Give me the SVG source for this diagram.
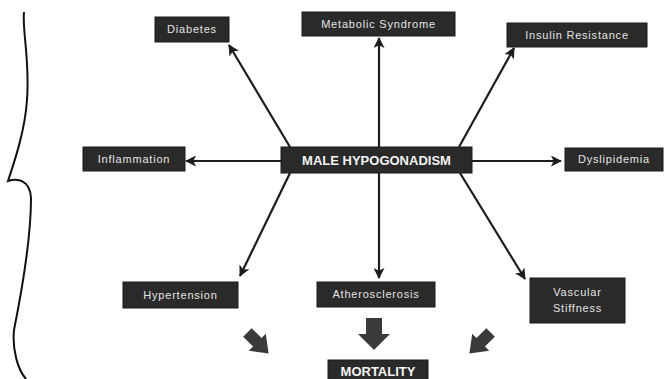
<svg xmlns="http://www.w3.org/2000/svg" width="664" height="379" viewBox="0 0 664 379">
<style>
.box{fill:#2a2a2a;stroke:#1a1a1a;stroke-width:1}
.lbl{font-family:"Liberation Sans",Arial,sans-serif;font-size:11px;fill:#e4e4e4;text-anchor:middle;letter-spacing:0.8px}
.main{font-family:"Liberation Sans",Arial,sans-serif;font-size:13px;font-weight:bold;fill:#f4f4f4;text-anchor:middle}
.con{stroke:#1c1c1c;stroke-width:2.2;fill:none;marker-end:url(#ah)}
.fat{fill:#3a3a3a}
</style>
<defs>
<marker id="ah" viewBox="0 0 12 12" refX="11" refY="6" markerWidth="5" markerHeight="5" orient="auto" markerUnits="strokeWidth">
<path d="M0,0 L12,6 L0,12 L3,6 Z" fill="#1c1c1c"/>
</marker>
<path id="fatD" d="M-6,-15 L6,-15 L6,-1 L12,-1 L0,15 L-12,-1 L-6,-1 Z"/>
<path id="fatM" d="M-8,-16 L8,-16 L8,0 L16,0 L0,16 L-16,0 L-8,0 Z"/>
</defs>
<rect width="664" height="379" fill="#ffffff"/>
<path d="M24,12 C22,30 30,60 27,100 C25,130 15,160 8,181 C18,178 30,180 31,198 C31,240 22,290 14,330 C12,350 18,370 26,379" fill="none" stroke="#111" stroke-width="2"/>
<g id="connectors">
<line class="con" x1="290" y1="147" x2="229" y2="45"/>
<line class="con" x1="379" y1="147" x2="379" y2="38"/>
<line class="con" x1="459" y1="147" x2="514" y2="48"/>
<line class="con" x1="281" y1="161" x2="186" y2="161"/>
<line class="con" x1="472" y1="161" x2="561" y2="161"/>
<line class="con" x1="290" y1="173" x2="240" y2="276"/>
<line class="con" x1="379" y1="173" x2="379" y2="278"/>
<line class="con" x1="460" y1="173" x2="525" y2="279"/>
<use href="#fatD" class="fat" transform="translate(258,343) rotate(-45)"/>
<use href="#fatM" class="fat" transform="translate(374,334)"/>
<use href="#fatD" class="fat" transform="translate(480,343) rotate(45)"/>
</g>
<g id="n-main"><rect class="box" x="281" y="147" width="191" height="26"/><text class="main" x="376.5" y="165">MALE HYPOGONADISM</text></g>
<g id="n-diabetes"><rect class="box" x="155" y="17" width="74" height="25"/><text class="lbl" x="192" y="33">Diabetes</text></g>
<g id="n-metabolic"><rect class="box" x="302" y="12" width="153" height="24"/><text class="lbl" x="378.5" y="28">Metabolic Syndrome</text></g>
<g id="n-insulin"><rect class="box" x="507" y="23" width="140" height="24"/><text class="lbl" x="577" y="39">Insulin Resistance</text></g>
<g id="n-inflammation"><rect class="box" x="83" y="147" width="102" height="24"/><text class="lbl" x="134" y="163">Inflammation</text></g>
<g id="n-dyslipidemia"><rect class="box" x="565" y="148" width="98" height="23"/><text class="lbl" x="614" y="163">Dyslipidemia</text></g>
<g id="n-hypertension"><rect class="box" x="123" y="282" width="115" height="26"/><text class="lbl" x="180.5" y="299">Hypertension</text></g>
<g id="n-athero"><rect class="box" x="317" y="282" width="118" height="25"/><text class="lbl" x="376" y="298">Atherosclerosis</text></g>
<g id="n-vascular"><rect class="box" x="530" y="278" width="95" height="45"/><text class="lbl" x="577.5" y="296">Vascular</text><text class="lbl" x="577.5" y="312">Stiffness</text></g>
<g id="n-mortality"><rect class="box" x="328" y="360" width="100" height="26"/><text class="main" x="378" y="376">MORTALITY</text></g>
</svg>
